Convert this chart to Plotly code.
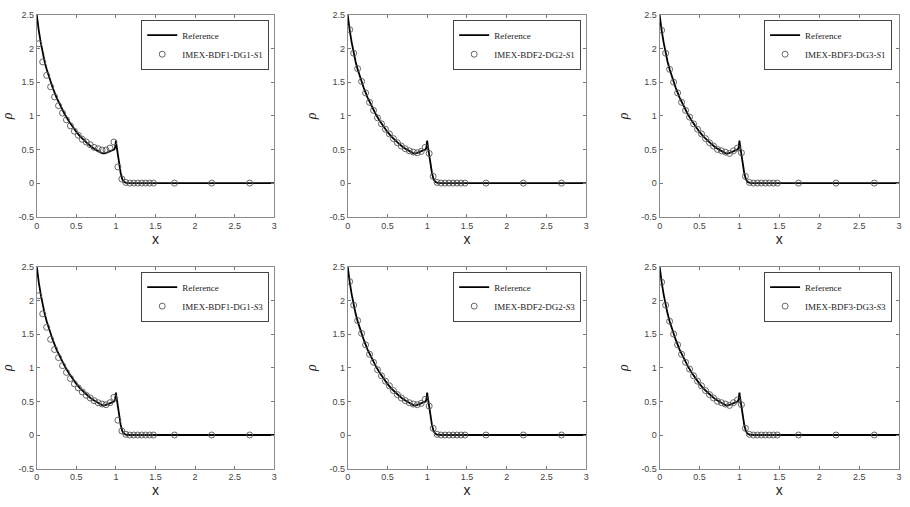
import plotly.graph_objects as go

# ---------------- data ----------------
ref_x = [0.0, 0.01, 0.025, 0.05, 0.075, 0.1, 0.125, 0.15, 0.175, 0.2, 0.25, 0.3, 0.35, 0.4,
         0.45, 0.5, 0.55, 0.6, 0.65, 0.7, 0.75, 0.8, 0.83, 0.86, 0.9, 0.95, 0.98, 0.99,
         1.0, 1.005, 1.02, 1.04, 1.06, 1.08, 1.1, 1.13, 1.16, 3.0]
ref_rho = [2.5, 2.38, 2.27, 2.09, 1.93, 1.80, 1.69, 1.59, 1.50, 1.42, 1.27, 1.14, 1.03, 0.93,
           0.84, 0.76, 0.69, 0.63, 0.58, 0.53, 0.49, 0.46, 0.44, 0.44, 0.46, 0.49, 0.50, 0.53,
           0.63, 0.58, 0.45, 0.30, 0.15, 0.06, 0.02, 0.003, 0.0, 0.0]

pts_x = [0.025, 0.075, 0.125, 0.175, 0.225, 0.275, 0.325, 0.375, 0.425, 0.475,
         0.525, 0.575, 0.625, 0.675, 0.725, 0.775, 0.825, 0.875, 0.925, 0.975,
         1.025, 1.075, 1.125, 1.175, 1.225, 1.275, 1.325, 1.375, 1.425, 1.475,
         1.74, 2.21, 2.69]

dg1_s1 = [2.07, 1.80, 1.60, 1.43, 1.28, 1.15, 1.04, 0.94, 0.85, 0.77,
          0.71, 0.65, 0.61, 0.57, 0.53, 0.51, 0.49, 0.49, 0.52, 0.61,
          0.24, 0.06, 0.01, 0, 0, 0, 0, 0, 0, 0, 0, 0, 0]
dg2_s1 = [2.28, 1.93, 1.70, 1.51, 1.34, 1.20, 1.08, 0.97, 0.88, 0.80,
          0.73, 0.66, 0.60, 0.55, 0.51, 0.48, 0.46, 0.45, 0.47, 0.53,
          0.44, 0.10, 0.01, 0, 0, 0, 0, 0, 0, 0, 0, 0, 0]
dg3_s1 = [2.27, 1.93, 1.69, 1.50, 1.34, 1.20, 1.08, 0.98, 0.88, 0.80,
          0.73, 0.66, 0.60, 0.55, 0.50, 0.48, 0.46, 0.44, 0.48, 0.52,
          0.45, 0.10, 0.01, 0, 0, 0, 0, 0, 0, 0, 0, 0, 0]
dg1_s3 = [2.07, 1.80, 1.60, 1.42, 1.27, 1.15, 1.03, 0.93, 0.84, 0.76,
          0.70, 0.64, 0.59, 0.55, 0.51, 0.48, 0.46, 0.45, 0.48, 0.56,
          0.22, 0.06, 0.01, 0, 0, 0, 0, 0, 0, 0, 0, 0, 0]
dg2_s3 = [2.28, 1.93, 1.70, 1.51, 1.34, 1.20, 1.08, 0.97, 0.88, 0.80,
          0.73, 0.66, 0.60, 0.55, 0.51, 0.48, 0.46, 0.45, 0.47, 0.53,
          0.43, 0.10, 0.01, 0, 0, 0, 0, 0, 0, 0, 0, 0, 0]
dg3_s3 = [2.27, 1.93, 1.69, 1.50, 1.34, 1.20, 1.08, 0.98, 0.88, 0.80,
          0.73, 0.66, 0.60, 0.55, 0.50, 0.48, 0.46, 0.44, 0.48, 0.52,
          0.45, 0.10, 0.01, 0, 0, 0, 0, 0, 0, 0, 0, 0, 0]

series = [dg1_s1, dg2_s1, dg3_s1, dg1_s3, dg2_s3, dg3_s3]
names = ["IMEX-BDF1-DG1-<i>S</i>1", "IMEX-BDF2-DG2-<i>S</i>1", "IMEX-BDF3-DG3-<i>S</i>1",
         "IMEX-BDF1-DG1-<i>S</i>3", "IMEX-BDF2-DG2-<i>S</i>3", "IMEX-BDF3-DG3-<i>S</i>3"]

x_ticks = [0, 0.5, 1, 1.5, 2, 2.5, 3]
x_ticklabels = ["0", "0.5", "1", "1.5", "2", "2.5", "3"]
y_ticks = [-0.5, 0, 0.5, 1, 1.5, 2, 2.5]
y_ticklabels = ["-0.5", "0", "0.5", "1", "1.5", "2", "2.5"]

# ---------------- layout geometry ----------------
W, H = 910, 507
col_px = [(34, 273), (347, 587), (661, 902)]
row_px = [(10, 216), (267, 473)]
leg_right_px = [268, 582, 895]
leg_top_px = [15, 272]

fig = go.Figure()
axis_common = dict(showgrid=False, zeroline=False, ticks="inside", ticklen=3,
                   tickwidth=1, tickcolor="#777", showline=True, linecolor="#8a8a8a",
                   linewidth=1, mirror="ticks",
                   tickfont=dict(family="Liberation Sans, Arial", size=9, color="#444"))

for i in range(6):
    r, c = divmod(i, 3)
    k = i + 1
    xa = "x" if k == 1 else f"x{k}"
    ya = "y" if k == 1 else f"y{k}"
    lg = "legend" if k == 1 else f"legend{k}"
    fig.add_trace(go.Scatter(x=ref_x, y=ref_rho, mode="lines", name="Reference",
                             line=dict(color="black", width=1.8),
                             xaxis=xa, yaxis=ya, legend=lg))
    fig.add_trace(go.Scatter(x=pts_x, y=series[i], mode="markers", name=names[i],
                             marker=dict(symbol="circle-open", size=6,
                                         color="#555", line=dict(width=0.9, color="#555")),
                             xaxis=xa, yaxis=ya, legend=lg))
    x0, x1 = col_px[c]
    y0, y1 = row_px[r]
    xkey = "xaxis" if k == 1 else f"xaxis{k}"
    ykey = "yaxis" if k == 1 else f"yaxis{k}"
    fig.update_layout(**{
        xkey: dict(axis_common, domain=[x0 / W, x1 / W], range=[0, 3], anchor=ya,
                   tickvals=x_ticks, ticktext=x_ticklabels,
                   title=dict(text="x", standoff=3,
                              font=dict(family="Liberation Sans, Arial", size=14, color="#222"))),
        ykey: dict(axis_common, domain=[1 - y1 / H, 1 - y0 / H], range=[-0.5, 2.5], anchor=xa,
                   tickvals=y_ticks, ticktext=y_ticklabels,
                   title=dict(text="<i>ρ</i>", standoff=9,
                              font=dict(family="Liberation Serif, Times New Roman", size=14, color="#222"))),
        lg: dict(x=leg_right_px[c] / W, y=1 - leg_top_px[r] / H, xanchor="right", yanchor="top",
                 bgcolor="white", bordercolor="#444", borderwidth=1, tracegroupgap=0,
                 itemwidth=30,
                 font=dict(family="Liberation Serif, Times New Roman", size=9, color="#222")),
    })

fig.update_layout(width=W, height=H, margin=dict(l=0, r=0, t=0, b=0),
                  plot_bgcolor="white", paper_bgcolor="white", showlegend=True)

fig.write_html("out.html")
